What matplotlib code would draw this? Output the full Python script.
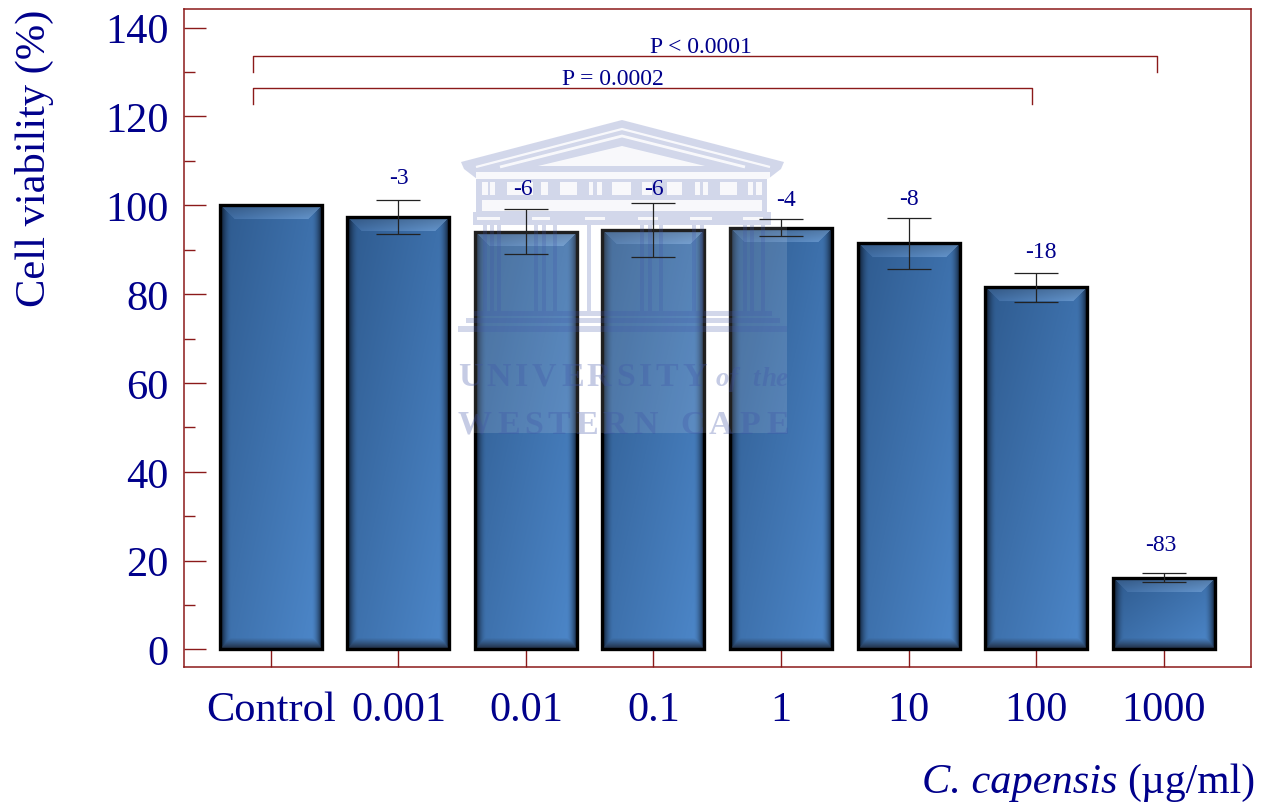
import numpy as np
import matplotlib
matplotlib.use("Agg")
import matplotlib.pyplot as plt
from matplotlib.patches import Rectangle, Polygon
from matplotlib.textpath import TextPath
from matplotlib.font_manager import FontProperties
from matplotlib.transforms import Affine2D

categories = ["Control", "0.001", "0.01", "0.1", "1", "10", "100", "1000"]
viability = [100, 97.4, 94.1, 94.5, 95.0, 91.5, 81.5, 16.2]
errors = [0, 3.8, 5.1, 6.1, 1.9, 5.75, 3.3, 1.05]
change_labels = ["", "-3", "-6", "-6", "-4", "-8", "-18", "-83"]
y_ticks = [0, 20, 40, 60, 80, 100, 120, 140]
y_minor = [10, 30, 50, 70, 90, 110, 130]

NAVY = "#00008b"
RED = "#8b1a1a"
plt.rcParams["font.family"] = ["Liberation Serif", "DejaVu Serif"]

W, H = 1267, 803
fig = plt.figure(figsize=(W / 100, H / 100), dpi=100, facecolor="white")
ax = fig.add_axes([184 / W, 1 - 668 / H, (1251 - 184) / W, (668 - 10) / H])
ax.set_xlim(-0.682, 7.686)
ax.set_ylim(-3.94, 144.2)
x = np.arange(len(categories))
bw = 0.80


def bevel_image(wp, hp):
    yy, xx = np.mgrid[0:hp, 0:wp]
    u = xx / max(wp - 1, 1)
    v = yy / max(hp - 1, 1)
    t = np.clip(0.55 * u + 0.5 * v, 0, 1)[..., None]
    c1 = np.array([0x2e, 0x5a, 0x8e]) / 255
    c2 = np.array([0x4c, 0x86, 0xc8]) / 255
    img = c1 + (c2 - c1) * t
    out = img.copy()

    # top bevel (light, brighter to the right)
    bt = 15
    ramp = np.clip(1 - yy / bt, 0, 1)[..., None]
    in_top = (yy < bt) & (xx >= yy) & (wp - 1 - xx >= yy)
    light = (np.array([0x42, 0x70, 0xa8]) / 255 * (1 - u[..., None])
             + np.array([0x72, 0xa2, 0xd8]) / 255 * u[..., None])
    top_col = light * (1 - ramp * 0.25) * 0.8 + img * 0.2
    out = np.where(in_top[..., None], top_col, out)

    # side bevels (dark only close to the edge)
    bs = 11
    for dist in (xx, wp - 1 - xx):
        s = np.clip(dist / bs, 0, 1)[..., None]
        in_side = (dist < bs) & (yy > dist) & (hp - 1 - yy > dist)
        col = np.array([0x0c, 0x18, 0x2a]) / 255 * (1 - s) ** 1.8 + img * (1 - (1 - s) ** 1.8)
        out = np.where(in_side[..., None], col, out)

    # bottom bevel
    bb = 11
    dist = hp - 1 - yy
    s = np.clip(dist / bb, 0, 1)[..., None]
    in_bot = (dist < bb) & (xx >= dist) & (wp - 1 - xx >= dist)
    col = np.array([0x20, 0x2c, 0x40]) / 255 * (1 - s) ** 1.2 + img * (1 - (1 - s) ** 1.2)
    out = np.where(in_bot[..., None], col, out)
    return np.clip(out, 0, 1)


fig.canvas.draw()
for xi, val in zip(x, viability):
    p0 = ax.transData.transform((xi - bw / 2, 0))
    p1 = ax.transData.transform((xi + bw / 2, val))
    wp, hp = int(round(p1[0] - p0[0])), int(round(p1[1] - p0[1]))
    ax.imshow(bevel_image(wp, hp), extent=(xi - bw / 2, xi + bw / 2, 0, val),
              aspect="auto", zorder=2, interpolation="bilinear")
ax.set_xlim(-0.682, 7.686)
ax.set_ylim(-3.94, 144.2)

ax.bar(x, viability, width=bw, facecolor="none", edgecolor="black", linewidth=2.4, zorder=3)
ax.errorbar(x[1:], viability[1:], yerr=errors[1:], fmt="none", ecolor="#222222",
            elinewidth=0.9, capthick=0.9, capsize=16, zorder=6)

for s in ax.spines.values():
    s.set_color(RED)
    s.set_linewidth(1.1)
ax.set_yticks(y_ticks)
ax.set_yticks(y_minor, minor=True)
ax.set_xticks(x)
ax.set_xticklabels(categories)
ax.tick_params(axis="y", which="major", direction="in", length=16, width=1, color=RED,
               labelsize=30.5, labelcolor=NAVY, pad=11)
ax.tick_params(axis="y", which="minor", direction="in", length=8, width=1, color=RED)
ax.tick_params(axis="x", which="major", direction="in", length=13, width=1, color=RED,
               labelsize=30.5, labelcolor=NAVY, pad=17)
ax.set_ylabel("Cell viability (%)", fontsize=30.6, color=NAVY, rotation=90,
              rotation_mode="anchor", ha="center", va="baseline")
ax.yaxis.set_label_coords(-0.130, 0.774)

# significance brackets
for x0, x1, y_low, y_high, txt, tx in [(-0.14, 6.95, 130.0, 133.7, "P < 0.0001", 3.375),
                                       (-0.14, 5.97, 122.9, 126.5, "P = 0.0002", 2.68)]:
    ax.plot([x0, x0, x1, x1], [y_low, y_high, y_high, y_low], color=RED, lw=1, zorder=4)
    ax.text(tx, y_high - 0.4, txt, ha="center", va="bottom", fontsize=17, color=NAVY, zorder=7)

# change labels
dy = [0, 5.0, 4.5, 3.1, 4.3, 4.3, 4.8, 6.5]
ddx = [0, 0, -0.02, 0, 0.04, 0, 0.04, -0.02]
for xi, v, e, t, o, d in zip(x, viability, errors, change_labels, dy, ddx):
    if t:
        ax.text(xi + d, v + e + o, t, ha="center", va="center", fontsize=17, color=NAVY, zorder=7)

# x-axis caption
fig.text(1255 / W, 1 - 793 / H, "(µg/ml)", ha="right", va="baseline", fontsize=30, color=NAVY)
fig.text(1117 / W, 1 - 793 / H, "C. capensis", ha="right", va="baseline", fontsize=30.5,
         style="italic", color=NAVY)

# ---- translucent university watermark (decorative overlay, in pixel coords) ----
px = Affine2D().scale(1 / W, -1 / H).translate(0, 1) + fig.transFigure
WM = (0.25, 0.33, 0.66)
A = 0.23
CUT = 0.85


def wrect(x0, y0, x1, y1, color=WM, alpha=A):
    ax.add_artist(Rectangle((x0, y0), x1 - x0, y1 - y0, transform=px, facecolor=color,
                            edgecolor="none", alpha=alpha, zorder=5, clip_on=False))


def wpoly(pts, color=WM, alpha=A):
    ax.add_artist(Polygon(pts, closed=True, facecolor=color, edgecolor="none", alpha=alpha,
                          transform=px, zorder=5, clip_on=False))


def wstroke(pts, lw, color="white", alpha=CUT):
    ax.add_artist(Polygon(pts, closed=False, fill=False, edgecolor=color, alpha=alpha, linewidth=lw,
                          transform=px, zorder=5, clip_on=False))


wrect(457, 122, 787, 434, color="white", alpha=0.13)
# pediment
wpoly([(461, 163), (622, 121), (784, 163), (781, 170), (768, 180), (477, 180), (464, 170)])
wstroke([(476, 168), (622, 130), (770, 168)], 1.6)
wstroke([(500, 168), (622, 137), (745, 168)], 2.0)
wpoly([(538, 167), (622, 147), (705, 167)], color="white", alpha=CUT)
wrect(476, 173, 770, 179.5, color="white", alpha=CUT)
# frieze
wrect(476, 180, 767, 198)
for a, b in [(482, 488), (490, 495), (507, 533), (541, 548), (560, 577), (589, 593), (597, 602),
             (612, 631), (642, 652), (667, 682), (695, 700), (703, 708), (720, 737), (748, 753),
             (756, 762)]:
    wrect(a, 183, b, 196, color="white", alpha=CUT)
# architrave
wrect(476, 198, 767, 213)
wrect(482, 201, 762, 212, color="white", alpha=CUT)
wrect(473, 213, 771, 226)
for a, b in [(477, 500), (532, 550), (585, 605), (638, 658), (690, 712), (743, 763)]:
    wrect(a, 218, b, 221, color="white", alpha=CUT)
# columns
for cx in [483, 490, 497, 534, 542, 553, 587, 640, 648, 659, 692, 700, 743, 750, 761]:
    wrect(cx, 226, cx + 4, 312)
# steps
wrect(474, 312, 772, 317)
wrect(466, 319, 780, 324)
wrect(458, 327, 787, 333)


def spaced(text, x0, x1, base, size, style="normal", weight="bold", alpha=0.3):
    fp = FontProperties(family="Liberation Serif", size=size * 0.72, style=style, weight=weight)
    adv = []
    for ch in text:
        if ch == " ":
            adv.append(size * 0.35)
        else:
            bb = TextPath((0, 0), ch, prop=fp).get_extents()
            adv.append(bb.x1 / 0.72)
    gap = (x1 - x0 - sum(adv)) / max(len(text) - 1, 1)
    cur = x0
    for ch, a in zip(text, adv):
        if ch != " ":
            ax.text(cur, base, ch, transform=px, fontproperties=fp, color=WM, alpha=alpha,
                    zorder=5, clip_on=False)
        cur += a + gap


spaced("UNIVERSITY", 458, 706, 386, 34)
spaced("of the", 716, 787, 386, 27, style="italic")
spaced("WESTERN", 458, 657, 434, 34)
spaced("CAPE", 680, 787, 434, 34)

fig.savefig("out.png", dpi=100)
